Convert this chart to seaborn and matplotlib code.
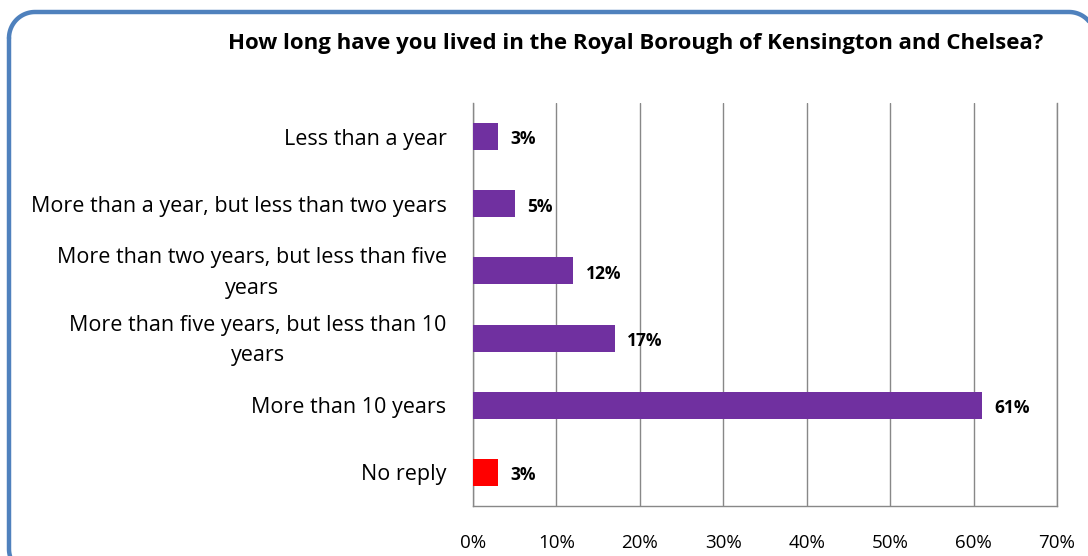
import matplotlib
matplotlib.use("Agg")
import matplotlib.pyplot as plt
import matplotlib.transforms as mtransforms
import numpy as np
import seaborn as sns
import pandas as pd
from matplotlib.ticker import FixedLocator, PercentFormatter

categories = [
    "Less than a year",
    "More than a year, but less than two years",
    "More than two years, but less than five\nyears",
    "More than five years, but less than 10\nyears",
    "More than 10 years",
    "No reply",
]
values = [3, 5, 12, 17, 61, 3]
labels = ["3%", "5%", "12%", "17%", "61%", "3%"]
colors = ["#7030A0", "#7030A0", "#7030A0", "#7030A0", "#7030A0", "#FF0000"]
title = "How long have you lived in the Royal Borough of Kensington and Chelsea?"

sns.set_style("white")
plt.rcParams["font.family"] = ["Open Sans", "DejaVu Sans"]
plt.rcParams["text.color"] = "black"
plt.rcParams["xtick.labelcolor"] = "black"
plt.rcParams["ytick.labelcolor"] = "black"

fig = plt.figure(figsize=(10.88, 5.56), dpi=100)

# overlay for the rounded border (pixel coordinates, y downwards)
bax = fig.add_axes([0, 0, 1, 1])
bax.set_xlim(0, 1088)
bax.set_ylim(556, 0)
bax.axis("off")
x0, y0, x1, y1, r = 9, 12, 1095, 575, 26
pts = []
for cx, cy, a0 in [(x0 + r, y0 + r, 180), (x1 - r, y0 + r, 270),
                   (x1 - r, y1 - r, 0), (x0 + r, y1 - r, 90)]:
    ang = np.radians(np.linspace(a0, a0 + 90, 30))
    pts.append(np.column_stack([cx + r * np.cos(ang), cy + r * np.sin(ang)]))
pts = np.vstack(pts + [pts[0][:1]])
bax.plot(pts[:, 0], pts[:, 1], color="#4F81BD", linewidth=3.2,
         solid_joinstyle="round", solid_capstyle="round")

ax = fig.add_axes([473/1088, 1-506/556, (1057-473)/1088, (506-103)/556])

df = pd.DataFrame({"cat": categories, "val": values})
sns.barplot(data=df, y="cat", x="val", hue="cat", palette=colors, orient="h",
            width=0.4, legend=False, ax=ax, saturation=1, zorder=3, linewidth=0)

ax.set_xlim(0, 70)
ax.set_ylim(len(categories) - 0.5, -0.5)
ax.set_xticks(range(0, 71, 10))
ax.xaxis.set_major_formatter(PercentFormatter(decimals=0))
ax.grid(axis="x", color="#888888", linewidth=1.0, zorder=0)
ax.set_xlabel("")
ax.set_ylabel("")

ax.spines["top"].set_visible(False)
for s in ["left", "bottom", "right"]:
    ax.spines[s].set_color("#888888")
    ax.spines[s].set_linewidth(1.0)

ax.tick_params(axis="x", which="major", length=6, color="#888888", labelcolor="black",
               labelsize=13.5, pad=14, direction="out")
ax.tick_params(axis="y", which="major", length=0, labelsize=15.5, pad=19, labelcolor="black")
ax.yaxis.set_minor_locator(FixedLocator([i - 0.5 for i in range(len(categories) + 1)]))
ax.tick_params(axis="y", which="minor", length=7, color="#888888", direction="out")
shift = mtransforms.ScaledTranslation(0, 5 / 100, fig.dpi_scale_trans)
for t in ax.get_yticklabels():
    t.set_multialignment("center")
    t.set_linespacing(1.6)
    if "\n" in t.get_text():
        t.set_transform(t.get_transform() + shift)

for i, (v, lab) in enumerate(zip(values, labels)):
    ax.annotate(lab, xy=(v, i), xytext=(9, -2), textcoords="offset points",
                ha="left", va="center", fontsize=12.5, fontweight="bold", color="black")

fig.text(636/1088, 1-43/556, title, ha="center", va="center", fontsize=16,
         fontweight="bold", color="black")

fig.savefig("out.png", dpi=100)
